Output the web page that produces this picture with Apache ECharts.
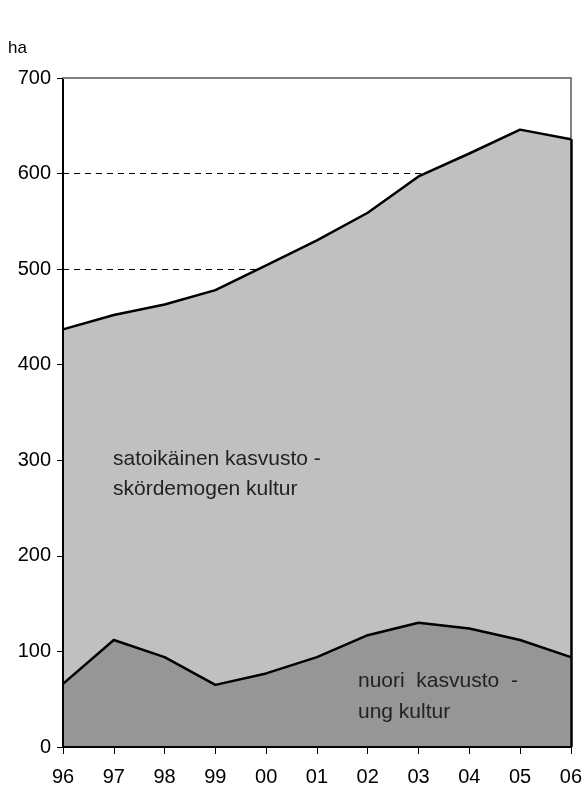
<!DOCTYPE html>
<html>
<head>
<meta charset="utf-8">
<script src="https://cdn.jsdelivr.net/npm/echarts@6/dist/echarts.min.js"></script>
<style>
  html, body { margin: 0; padding: 0; background: #fff; }
  #chart { width: 585px; height: 787px; }
</style>
</head>
<body>
<div id="chart"></div>
<script>
// years on the x axis
const years = ['96', '97', '98', '99', '00', '01', '02', '03', '04', '05', '06'];
// total area (top line), ha
const totalArea = [437, 452, 463, 478, 504, 530, 559, 597, 621, 646, 636];
// young stands (lower line), ha
const youngArea = [66, 112, 94, 65, 77, 94, 117, 130, 124, 112, 94];

let myChart = echarts.init(document.getElementById('chart'));
const font = 'Liberation Sans, Arial, sans-serif';
const lastIdx = years.length - 1;

let option = {
    animation: false,
    grid: { left: 63, right: 12, top: 78, bottom: 39 },
    xAxis: [
        {
            type: 'category',
            data: years,
            boundaryGap: false,
            axisLine: { onZero: false, lineStyle: { color: '#000', width: 2 } },
            axisTick: { length: 7, lineStyle: { color: '#000', width: 1 } },
            axisLabel: { color: '#000', fontSize: 20, fontFamily: font, margin: 20 },
            splitLine: { show: false },
            z: 6
        },
        {
            // grey frame on top
            type: 'category',
            data: years,
            boundaryGap: false,
            position: 'top',
            axisLine: { onZero: false, lineStyle: { color: '#808080', width: 2 } },
            axisTick: { show: false },
            axisLabel: { show: false },
            z: 6
        }
    ],
    yAxis: [
        {
            // dashed grid lines, kept under the areas
            type: 'value',
            min: 0,
            max: 700,
            interval: 100,
            axisLine: { show: false },
            axisTick: { show: false },
            axisLabel: { show: false },
            splitLine: { show: true, lineStyle: { color: '#000', type: [6, 5], width: 1 } },
            z: 0
        },
        {
            type: 'value',
            min: 0,
            max: 700,
            interval: 100,
            position: 'left',
            axisLine: { show: true, onZero: false, lineStyle: { color: '#000', width: 2 } },
            axisTick: { show: true, length: 6, lineStyle: { color: '#000', width: 1 } },
            axisLabel: { color: '#000', fontSize: 20, fontFamily: font, margin: 12 },
            splitLine: { show: false },
            z: 6
        },
        {
            type: 'value',
            min: 0,
            max: 700,
            interval: 100,
            position: 'right',
            axisLine: { show: true, onZero: false, lineStyle: { color: '#808080', width: 2 } },
            axisTick: { show: false },
            axisLabel: { show: false },
            splitLine: { show: false },
            z: 0
        }
    ],
    series: [
        {
            type: 'line',
            data: totalArea,
            symbol: 'none',
            lineStyle: { color: '#000', width: 2.5 },
            areaStyle: { color: '#c0c0c0', opacity: 1 },
            z: 2,
            markLine: {
                symbol: 'none',
                silent: true,
                label: { show: false },
                lineStyle: { color: '#000', width: 2.5, type: 'solid' },
                data: [[
                    { coord: [years[lastIdx], 0] },
                    { coord: [years[lastIdx], totalArea[lastIdx]] }
                ]]
            }
        },
        {
            type: 'line',
            data: youngArea,
            symbol: 'none',
            lineStyle: { color: '#000', width: 2.5 },
            areaStyle: { color: '#969696', opacity: 1 },
            z: 3
        }
    ],
    graphic: [
        { type: 'text', x: 8, y: 48, style: { text: 'ha', font: '17px ' + font, fill: '#000', verticalAlign: 'middle' } },
        { type: 'text', x: 113, y: 459, z: 10, style: { text: 'satoikäinen kasvusto -', font: '21px ' + font, fill: '#222', verticalAlign: 'middle' } },
        { type: 'text', x: 113, y: 489, z: 10, style: { text: 'skördemogen kultur', font: '21px ' + font, fill: '#222', verticalAlign: 'middle' } },
        { type: 'text', x: 358, y: 681, z: 10, style: { text: 'nuori  kasvusto  -', font: '21px ' + font, fill: '#222', verticalAlign: 'middle' } },
        { type: 'text', x: 358, y: 712, z: 10, style: { text: 'ung kultur', font: '21px ' + font, fill: '#222', verticalAlign: 'middle' } }
    ]
};

window.onresize = function () {
    myChart.resize();
};
myChart.setOption(option);
</script>
</body>
</html>
